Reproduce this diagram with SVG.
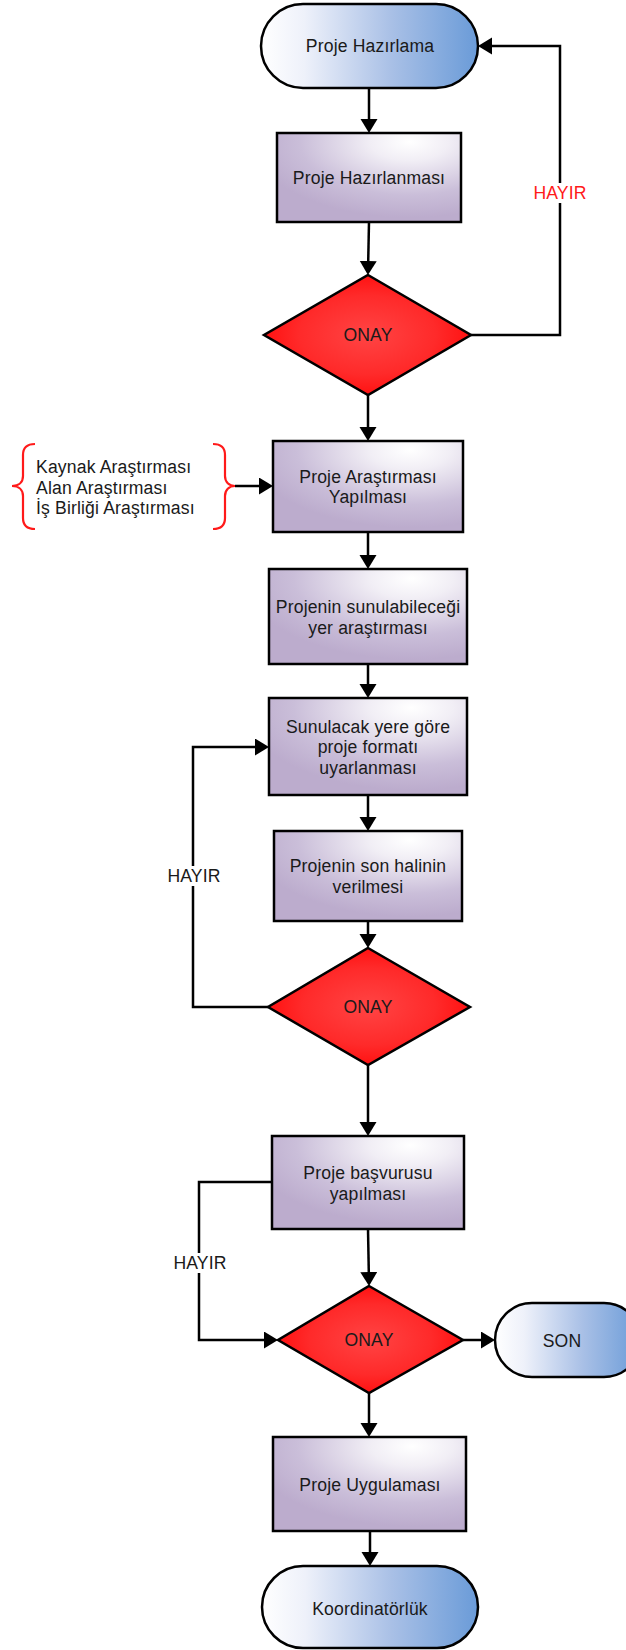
<svg xmlns="http://www.w3.org/2000/svg" width="626" height="1650" viewBox="0 0 626 1650">
<defs>
<linearGradient id="term" x1="0" y1="0" x2="1" y2="0">
<stop offset="0" stop-color="#ffffff"/>
<stop offset="0.2" stop-color="#eef1fa"/>
<stop offset="0.6" stop-color="#a9c0e6"/>
<stop offset="1" stop-color="#6a9bd8"/>
</linearGradient>
<radialGradient id="proc" cx="0.72" cy="0.1" r="0.85" fx="0.72" fy="0.1">
<stop offset="0" stop-color="#ffffff"/>
<stop offset="0.25" stop-color="#f1eef5"/>
<stop offset="0.7" stop-color="#cabed9"/>
<stop offset="1" stop-color="#bcaccd"/>
</radialGradient>
<radialGradient id="dec" cx="0.5" cy="0.5" r="0.55">
<stop offset="0" stop-color="#ff4444"/>
<stop offset="0.6" stop-color="#ff2a2a"/>
<stop offset="1" stop-color="#ff0a0a"/>
</radialGradient>
<marker id="ah" markerUnits="userSpaceOnUse" markerWidth="16" markerHeight="18" refX="11" refY="8.5" orient="auto">
<path d="M0,0 L14,8.5 L0,17 z" fill="#000"/>
</marker>
<style>
.t{font-family:"Liberation Sans",Arial,sans-serif;font-size:17.6px;letter-spacing:0.15px;fill:#1a1a1a;text-anchor:middle;dominant-baseline:central}
.tl{font-family:"Liberation Sans",Arial,sans-serif;font-size:17.6px;letter-spacing:0.15px;fill:#1a1a1a;dominant-baseline:central}
.term{fill:url(#term);stroke:#000;stroke-width:2.5}
.proc{fill:url(#proc);stroke:#000;stroke-width:2.5}
.dec{fill:url(#dec);stroke:#000;stroke-width:2.5}
.c{fill:none;stroke:#000;stroke-width:2.5}
.ca{fill:none;stroke:#000;stroke-width:2.5;marker-end:url(#ah)}
.brace{fill:none;stroke:#ff1a1a;stroke-width:2.2}
</style>
</defs>

<g id="connectors">
<path class="ca" d="M369,88 L369,130"/>
<path class="ca" d="M369,222 L368,272"/>
<path class="ca" d="M471,335 L560,335 L560,46 L481,46"/>
<path class="ca" d="M368,395 L368,438"/>
<path class="ca" d="M235,486 L270,486"/>
<path class="ca" d="M368,532 L368,566"/>
<path class="ca" d="M368,664 L368,695"/>
<path class="ca" d="M368,795 L368,828"/>
<path class="ca" d="M368,921 L368,945"/>
<path class="ca" d="M268,1007 L193,1007 L193,747 L266,747"/>
<path class="ca" d="M368,1065 L368,1133"/>
<path class="ca" d="M368,1229 L369,1283"/>
<path class="ca" d="M272,1182 L199,1182 L199,1340 L275,1340"/>
<path class="ca" d="M463,1340 L492,1340"/>
<path class="ca" d="M369,1393 L369,1434"/>
<path class="ca" d="M370,1531 L370,1563"/>
<g id="label-hayir-1">
<rect x="530" y="183" width="60" height="20" fill="#fff"/>
<text class="t" x="560" y="193" style="fill:#ff1a1a">HAYIR</text>
</g>
<g id="label-hayir-2">
<rect x="164" y="866" width="60" height="20" fill="#fff"/>
<text class="t" x="194" y="876">HAYIR</text>
</g>
<g id="label-hayir-3">
<rect x="170" y="1253" width="60" height="20" fill="#fff"/>
<text class="t" x="200" y="1263">HAYIR</text>
</g>
</g>

<g id="n-proje-hazirlama">
<rect class="term" x="261" y="4" width="217" height="84" rx="42" ry="42"/>
<text class="t" x="370" y="46">Proje Hazırlama</text>
</g>
<g id="n-proje-hazirlanmasi">
<rect class="proc" x="277" y="133" width="184" height="89"/>
<text class="t" x="369" y="178">Proje Hazırlanması</text>
</g>
<g id="n-onay-1">
<polygon class="dec" points="368,275 471,335 368,395 264,335"/>
<text class="t" x="368" y="335">ONAY</text>
</g>
<g id="n-arastirma-listesi">
<path class="brace" d="M35,444 C27,444 23,448 23,455 L23,476 C23,482 19,486 12,486 C19,486 23,490 23,496 L23,518 C23,525 27,529 35,529"/>
<path class="brace" d="M213,444 C221,444 225,448 225,455 L225,476 C225,482 229,486 235,486 C229,486 225,490 225,496 L225,518 C225,525 221,529 213,529"/>
<text class="tl" x="36" y="467">Kaynak Araştırması</text>
<text class="tl" x="36" y="488">Alan Araştırması</text>
<text class="tl" x="36" y="508">İş Birliği Araştırması</text>
</g>
<g id="n-proje-arastirmasi">
<rect class="proc" x="273" y="441" width="190" height="91"/>
<text class="t" x="368" y="477">Proje Araştırması</text>
<text class="t" x="368" y="497">Yapılması</text>
</g>
<g id="n-sunulabilecek-yer">
<rect class="proc" x="269" y="569" width="198" height="95"/>
<text class="t" x="368" y="607">Projenin sunulabileceği</text>
<text class="t" x="368" y="628">yer araştırması</text>
</g>
<g id="n-format-uyarlama">
<rect class="proc" x="269" y="698" width="198" height="97"/>
<text class="t" x="368" y="727">Sunulacak yere göre</text>
<text class="t" x="368" y="747">proje formatı</text>
<text class="t" x="368" y="768">uyarlanması</text>
</g>
<g id="n-son-hal">
<rect class="proc" x="274" y="831" width="188" height="90"/>
<text class="t" x="368" y="866">Projenin son halinin</text>
<text class="t" x="368" y="887">verilmesi</text>
</g>
<g id="n-onay-2">
<polygon class="dec" points="368,948 470,1007 368,1065 268,1007"/>
<text class="t" x="368" y="1007">ONAY</text>
</g>
<g id="n-basvuru">
<rect class="proc" x="272" y="1136" width="192" height="93"/>
<text class="t" x="368" y="1173">Proje başvurusu</text>
<text class="t" x="368" y="1194">yapılması</text>
</g>
<g id="n-onay-3">
<polygon class="dec" points="369,1286 463,1340 369,1393 278,1340"/>
<text class="t" x="369" y="1340">ONAY</text>
</g>
<g id="n-son">
<rect class="term" x="495" y="1303" width="146" height="74" rx="37" ry="37"/>
<text class="t" x="562" y="1341">SON</text>
</g>
<g id="n-uygulama">
<rect class="proc" x="273" y="1437" width="193" height="94"/>
<text class="t" x="370" y="1485">Proje Uygulaması</text>
</g>
<g id="n-koordinatorluk">
<rect class="term" x="262" y="1566" width="216" height="82" rx="41" ry="41"/>
<text class="t" x="370" y="1609">Koordinatörlük</text>
</g>
</svg>
